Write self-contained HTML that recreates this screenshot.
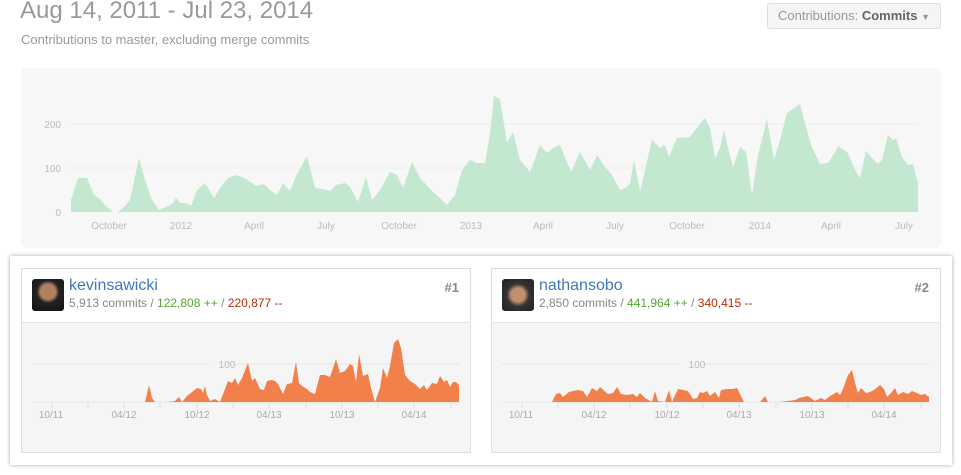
<!DOCTYPE html>
<html><head><meta charset="utf-8"><style>
body{margin:0;width:961px;height:475px;background:#fff;font-family:"Liberation Sans",sans-serif;position:relative;overflow:hidden}
.abs{position:absolute}
h1{position:absolute;left:20px;top:-3px;margin:0;font-weight:normal;font-size:24px;color:#999}
.sub{left:21px;top:32px;font-size:13px;color:#999}
.btn{left:767px;top:3px;width:172px;height:24px;border:1px solid #ddd;border-radius:3px;background:#f5f5f5;font-size:13px;color:#999;line-height:24px;text-align:center}
.panel{left:21px;top:68px;width:920px;height:180px;background:#f7f7f7;border-radius:5px}
.outer{left:10px;top:256px;width:942px;height:209px;background:#fff;box-shadow:0 0 4px rgba(0,0,0,.35)}
.card{width:448px;height:183px;border:1px solid #ddd;background:#f5f5f5;top:268px}
.hd{position:absolute;left:0;top:0;right:0;height:53px;background:#fff;border-bottom:1px solid #e5e5e5}
.av{position:absolute;left:10px;top:10px;width:32px;height:32px;border-radius:3px}
.nm{position:absolute;left:47px;top:8px;font-size:16px;color:#4078c0}
.st{position:absolute;left:47px;top:27px;font-size:12px;color:#888}
.rk{position:absolute;right:11px;top:11px;font-size:13px;color:#888;font-weight:bold}
</style></head><body>
<h1>Aug 14, 2011 - Jul 23, 2014</h1>
<div class="abs sub">Contributions to master, excluding merge commits</div>
<div class="abs btn">Contributions: <b style="color:#666">Commits</b> <span style="font-size:9px">▼</span></div>
<div class="abs panel"></div>
<svg class="abs" style="left:0;top:0" width="961" height="250">
<line x1="71" y1="124" x2="918" y2="124" stroke="#eee"/><line x1="71" y1="168" x2="918" y2="168" stroke="#eee"/>
<g font-size="10" fill="#bbb" text-anchor="end"><text x="61" y="128">200</text><text x="61" y="172">100</text><text x="61" y="216">0</text></g>
<polygon fill="#c3e8cf" points="71,212 71,200 78,178 87,178 94,195 100,199 105,205 113,212 118,212 125,206 130,200 139,158 145,180 152,200 159,210 166,207 172,204 176,198 181,203 186,203 191,206 197,190 205,183 214,198 220,188 228,178 237,175 246,179 256,186 264,184 270,190 277,195 283,183 290,191 296,176 307,156 315,188 322,189 330,191 336,185 345,183 350,187 358,202 366,177 372,200 380,190 390,172 397,175 403,188 412,162 420,178 433,192 442,200 447,205 455,195 462,170 470,160 477,163 485,163 490,134 494,96 500,99 507,143 513,132 520,160 530,172 540,145 547,153 553,148 560,145 571,172 580,152 590,170 597,155 605,167 612,175 620,190 627,187 630,183 634,160 638,180 640,192 645,170 652,140 660,148 665,145 669,157 677,138 690,137 700,124 705,118 710,128 715,158 720,148 724,130 728,148 733,167 740,147 746,152 752,195 758,155 767,119 774,160 780,140 787,113 800,104 811,145 820,164 828,163 834,154 838,146 847,152 850,158 855,170 860,178 866,151 871,157 878,164 882,160 888,135 893,140 896,138 902,157 908,165 913,164 917,180 918,183 918,212"/>
<g font-size="10" fill="#bbb" text-anchor="middle"><text x="109" y="229">October</text><text x="181" y="229">2012</text><text x="254" y="229">April</text><text x="326" y="229">July</text><text x="399" y="229">October</text><text x="471" y="229">2013</text><text x="543" y="229">April</text><text x="615" y="229">July</text><text x="687" y="229">October</text><text x="760" y="229">2014</text><text x="831" y="229">April</text><text x="904" y="229">July</text></g>
</svg>
<div class="abs outer"></div>
<div class="abs card" style="left:21px"><div class="hd"><div class="av" style="background:radial-gradient(circle at 50% 40%,#b08060 0 30%,#222 45%,#111 100%)"></div><div class="nm">kevinsawicki</div><div class="st">5,913 commits / <span style="color:#55a532">122,808 ++</span> / <span style="color:#bd2c00">220,877 --</span></div><div class="rk">#1</div></div></div>
<div class="abs card" style="left:491px"><div class="hd"><div class="av" style="background:radial-gradient(circle at 50% 50%,#c09070 0 30%,#333 50%,#222 100%)"></div><div class="nm">nathansobo</div><div class="st">2,850 commits / <span style="color:#55a532">441,964 ++</span> / <span style="color:#bd2c00">340,415 --</span></div><div class="rk">#2</div></div></div>
<svg class="abs" style="left:0;top:0" width="961" height="475">
<g stroke="#e5e5e5"><line x1="32" y1="364" x2="459" y2="364"/><line x1="502" y1="364" x2="929" y2="364"/><line x1="32" y1="402" x2="459" y2="402"/><line x1="502" y1="402" x2="929" y2="402"/></g>
<g font-size="10" fill="#bbb" text-anchor="middle"><rect x="209" y="358" width="24" height="12" fill="#f5f5f5"/><text x="227" y="368">100</text><rect x="679" y="358" width="24" height="12" fill="#f5f5f5"/><text x="697" y="368">100</text></g>
<polygon fill="#f1804a" points="145,402 149,385 152,398 155,402 168,402 175,401 179,397 182,402 187,396 192,392 197,388 201,389 203,393 205,386 207,395 210,401 215,399 220,402 228,381 232,383 235,378 238,385 242,378 248,363 252,381 255,378 260,389 264,390 267,381 272,380 275,381 278,384 283,394 287,384 292,383 296,362 299,383 302,386 307,389 310,392 315,394 320,375 325,375 330,377 336,359 340,373 345,371 350,364 353,366 356,382 359,354 363,376 368,374 371,388 375,402 380,388 383,368 387,378 390,366 394,343 398,339 401,348 405,375 410,381 415,384 420,389 424,385 427,390 432,383 437,384 440,376 444,382 447,380 450,387 453,382 456,382 459,385 459,402"/>
<polygon fill="#f1804a" points="552,402 556,394 560,393 563,397 569,392 573,391 578,390 583,391 587,397 592,388 597,391 600,387 608,394 613,393 617,387 621,394 627,395 633,394 637,397 640,393 645,398 652,402 655,391 658,401 665,402 669,390 672,402 678,389 688,391 693,399 697,398 700,392 703,393 707,391 710,396 715,392 719,398 721,390 727,389 733,389 737,388 741,396 744,402 760,402 765,396 768,402 780,402 788,401 795,400 799,398 803,397 808,396 815,401 821,398 825,400 830,396 837,392 840,395 843,389 848,375 852,370 855,383 858,393 861,388 866,393 870,392 874,390 880,385 884,389 887,397 891,393 895,388 898,395 903,392 908,394 912,391 917,393 921,395 925,394 929,397 929,402"/>
<g stroke="#ddd"><path d="M52 403v5M88 403v5M124 403v5M160 403v5M197 403v5M233 403v5M269 403v5M306 403v5M342 403v5M378 403v5M414 403v5M451 403v5"/><path d="M522 403v5M558 403v5M594 403v5M630 403v5M667 403v5M703 403v5M739 403v5M776 403v5M812 403v5M848 403v5M884 403v5M921 403v5"/></g>
<g font-size="10" fill="#aaa" text-anchor="middle"><text x="51" y="418">10/11</text><text x="124" y="418">04/12</text><text x="197" y="418">10/12</text><text x="269" y="418">04/13</text><text x="342" y="418">10/13</text><text x="414" y="418">04/14</text><text x="521" y="418">10/11</text><text x="594" y="418">04/12</text><text x="667" y="418">10/12</text><text x="739" y="418">04/13</text><text x="812" y="418">10/13</text><text x="884" y="418">04/14</text></g>
</svg>
</body></html>
